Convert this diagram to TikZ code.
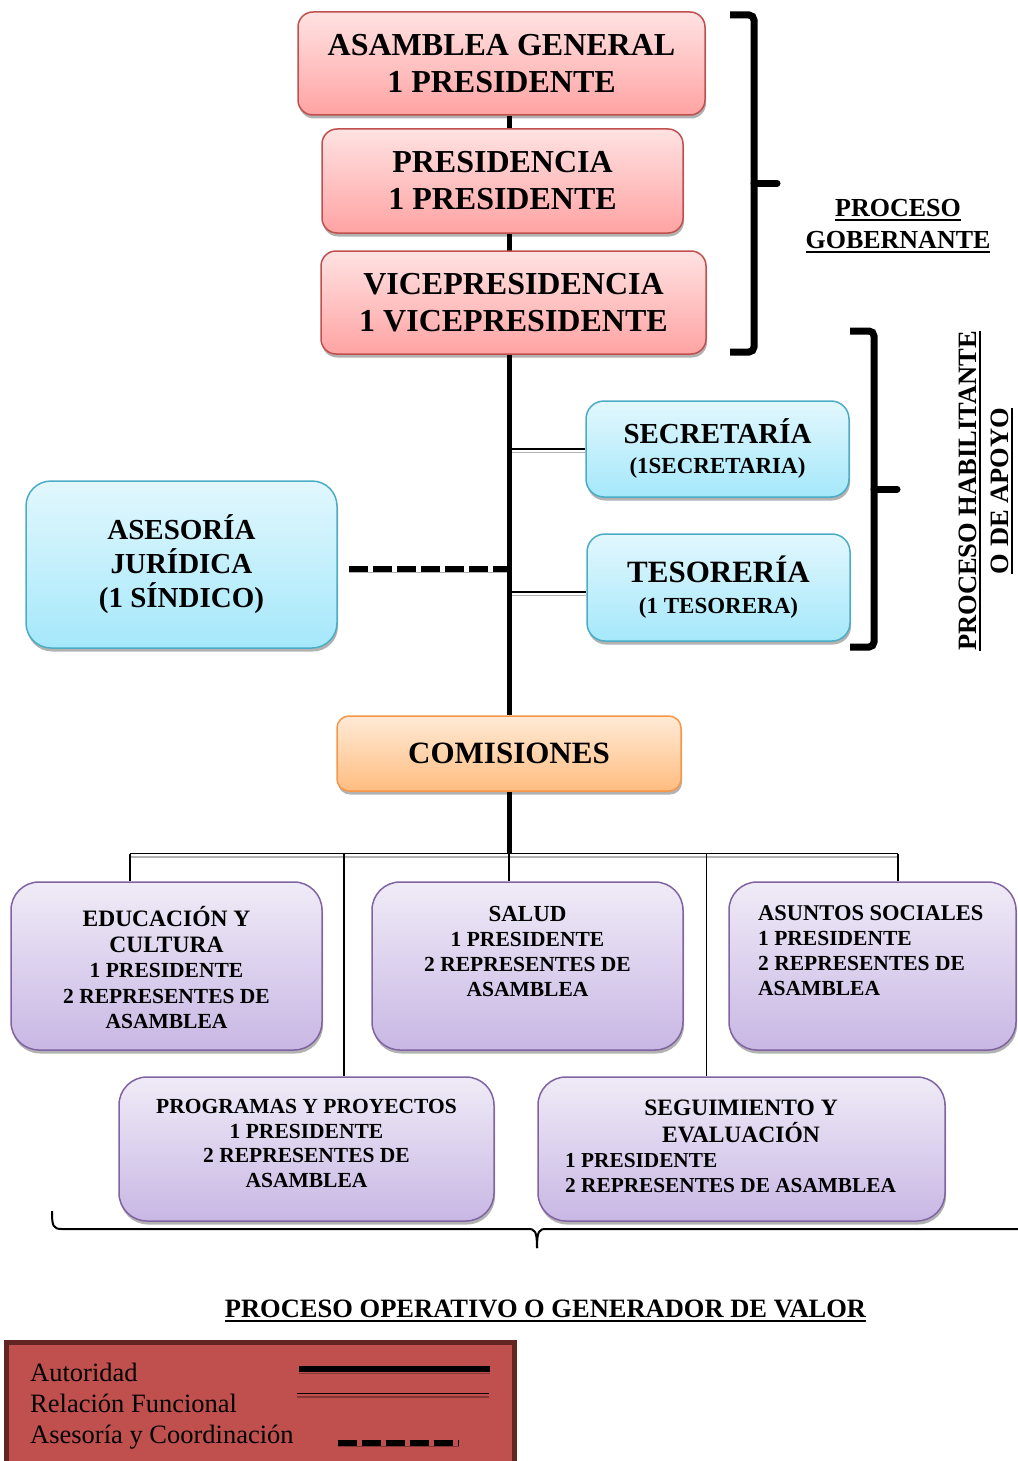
\documentclass[tikz,border=0pt]{standalone}
\usepackage{fontspec}
\setmainfont{Liberation Serif}
\usetikzlibrary{shadows,backgrounds}

\definecolor{redEdge}{RGB}{192,80,77}
\definecolor{redTop}{RGB}{255,226,226}
\definecolor{redBot}{RGB}{255,163,163}
\definecolor{blueEdge}{RGB}{75,172,198}
\definecolor{blueTop}{RGB}{226,247,253}
\definecolor{blueBot}{RGB}{165,232,251}
\definecolor{orgEdge}{RGB}{247,150,70}
\definecolor{orgTop}{RGB}{255,234,214}
\definecolor{orgBot}{RGB}{255,189,128}
\definecolor{purEdge}{RGB}{128,100,162}
\definecolor{purTop}{RGB}{240,235,247}
\definecolor{purBot}{RGB}{200,183,228}
\definecolor{legFill}{RGB}{192,80,77}
\definecolor{legEdge}{RGB}{99,37,35}

% bold text at a given size and line spacing
\newcommand\fsz[2]{\fontsize{#1}{#2}\selectfont\bfseries}
% heavy underline
\newcommand\undl[1]{\setbox0=\hbox{#1}\leavevmode\rlap{\rule[-4.5pt]{\wd0}{2pt}}\box0}

\begin{document}
\begin{tikzpicture}[x=1pt,y=-1pt,
  panel/.style={line width=1.5pt, inner sep=0pt, align=center,
    drop shadow={shadow xshift=1pt, shadow yshift=-3.5pt, fill=black, opacity=0.3}},
  redbox/.style={panel, rounded corners=15pt, draw=redEdge, top color=redTop, bottom color=redBot},
  bluebox/.style={panel, rounded corners=18pt, draw=blueEdge, top color=blueTop, bottom color=blueBot},
  orangebox/.style={panel, rounded corners=12pt, draw=orgEdge, top color=orgTop, bottom color=orgBot},
  purplebox/.style={panel, rounded corners=28pt, draw=purEdge, top color=purTop, bottom color=purBot},
  txt/.style={inner sep=0pt, align=center},
  authority/.style={line width=5pt,
    preaction={draw=black, draw opacity=0.3, transform canvas={yshift=-4pt}}},
  functional/.style={line width=1.2pt,
    preaction={draw=black, draw opacity=0.3, line width=1.6pt, transform canvas={yshift=-3.5pt}}},
  advisory/.style={line width=6pt, dash pattern=on 19pt off 5pt,
    preaction={draw=black, draw opacity=0.3, transform canvas={yshift=-3.5pt}}},
  tap/.style={line width=1.2pt},
  bracket/.style={line width=7pt,
    preaction={draw=black, draw opacity=0.3, transform canvas={xshift=1pt, yshift=-3pt}}},
  thinbrace/.style={line width=2pt},
  legtext/.style={anchor=base west, inner sep=0pt, font=\fontsize{26.5}{31}\selectfont},
]
\useasboundingbox (0,0) rectangle (1017,1461);

% governing bodies
\node[redbox, minimum width=407pt, minimum height=103pt, font=\fsz{32}{37}] (ag) at (501.5,63.5) {ASAMBLEA GENERAL\\1 PRESIDENTE};
\node[redbox, minimum width=361pt, minimum height=104pt, font=\fsz{32}{37}] (pres) at (502.5,181) {PRESIDENCIA\\1 PRESIDENTE};
\node[redbox, minimum width=385pt, minimum height=103pt, font=\fsz{32}{37}] (vice) at (513.5,302.5) {VICEPRESIDENCIA\\1 VICEPRESIDENTE};

% support bodies
\node[bluebox, minimum width=263pt, minimum height=96pt, font=\fsz{23}{30}] (sec) at (717.5,449) {{\fontsize{29}{30}\selectfont SECRETARÍA}\\(1SECRETARIA)};
\node[bluebox, minimum width=263pt, minimum height=107pt, font=\fsz{23}{31}] (tes) at (718.5,587.5) {{\fontsize{31}{31}\selectfont TESORERÍA}\\(1 TESORERA)};
\node[bluebox, rounded corners=25pt, minimum width=311pt, minimum height=167pt, font=\fsz{29}{34}] (aj) at (181.5,564.5) {ASESORÍA\\JURÍDICA\\(1 SÍNDICO)};

% commissions
\node[orangebox, minimum width=344pt, minimum height=75pt, font=\fsz{31}{37}] (com) at (509,753.5) {COMISIONES};

\node[purplebox, minimum width=311pt, minimum height=168pt] (edu) at (166.5,966) {};
\node[purplebox, minimum width=311pt, minimum height=168pt] (sal) at (527.5,966) {};
\node[purplebox, minimum width=287pt, minimum height=168pt] (asu) at (872.5,966) {};
\node[purplebox, minimum width=375pt, minimum height=144pt] (prog) at (306.5,1149) {};
\node[purplebox, minimum width=407pt, minimum height=144pt] (seg) at (741.5,1149) {};

\node[txt, font=\fsz{21.5}{25.5}] (eduT) at (166.5,968) {{\fontsize{23.5}{25.5}\selectfont EDUCACIÓN Y}\\{\fontsize{23.5}{25.5}\selectfont CULTURA}\\1 PRESIDENTE\\2 REPRESENTES DE\\ASAMBLEA};
\node[txt, font=\fsz{21.5}{25}] (salT) at (527.5,951.5) {{\fontsize{23}{25}\selectfont SALUD}\\1 PRESIDENTE\\2 REPRESENTES DE\\ASAMBLEA};
\node[txt, align=left, anchor=west, font=\fsz{21.5}{25}] (asuT) at (758,950.5) {{\fontsize{22.5}{25}\selectfont ASUNTOS SOCIALES}\\1 PRESIDENTE\\2 REPRESENTES DE\\ASAMBLEA};
\node[txt, font=\fsz{21.5}{24.5}] (progT) at (306.5,1143.5) {PROGRAMAS Y PROYECTOS\\1 PRESIDENTE\\2 REPRESENTES DE\\ASAMBLEA};
\node[txt, font=\fsz{23.5}{27}] (segT) at (741,1121.5) {SEGUIMIENTO Y\\EVALUACIÓN};
\node[txt, align=left, anchor=west, font=\fsz{21.3}{25}] (segM) at (565,1173.5) {1 PRESIDENTE\\2 REPRESENTES DE ASAMBLEA};

% process labels
\node[txt, font=\fsz{26}{32}] (gob) at (898,226) {\undl{PROCESO}\\\undl{GOBERNANTE}};
\node[txt, rotate=90, font=\fsz{26.5}{32}] (hab) at (986,491) {\undl{PROCESO HABILITANTE}\\\undl{O DE APOYO}};
\node[txt, font=\fsz{26.5}{32}] (opval) at (545.5,1311) {\undl{PROCESO OPERATIVO O GENERADOR DE VALOR}};

% brackets grouping the processes
\draw[bracket, rounded corners=5pt] (730,15) -- (754,15) -- (754,352) -- (730,352);
\draw[bracket, line cap=round] (754,183) -- (777,183);
\draw[bracket, rounded corners=5pt] (850,331) -- (874,331) -- (874,647) -- (850,647);
\draw[bracket, line cap=round] (874,489) -- (897,489);
\draw[thinbrace] (52,1211) .. controls (52,1226) and (53,1229) .. (62,1229) -- (528,1229)
  .. controls (535,1229) and (537,1231) .. (537,1248);
\draw[thinbrace] (537,1248) .. controls (537,1231) and (539,1229) .. (546,1229) -- (1020,1229);

% legend
\node[draw=legEdge, line width=5pt, fill=legFill, minimum width=508pt, minimum height=140pt,
  anchor=north west, inner sep=0pt, outer sep=0pt] (legend) at (6.5,1342.5) {};
\node[legtext] (lgA) at (30,1381) {Autoridad};
\node[legtext] (lgF) at (30,1412) {Relación Funcional};
\node[legtext] (lgC) at (30,1443) {Asesoría y Coordinación};
\draw[authority, line width=6pt] (299,1369) -- (490,1369);
\draw[functional] (297,1393.5) -- (489,1393.5);
\draw[advisory] (338,1443) -- (459,1443);

% connectors
\coordinate (busL) at (130,853.5);
\coordinate (busP) at (344,853.5);
\coordinate (busC) at (509,853.5);
\coordinate (busS) at (706.5,853.5);
\coordinate (busR) at (898,853.5);
\path ([yshift=-4.5pt]tes.west) coordinate (tesIn);
\path ([yshift=-4.5pt]aj.east) coordinate (ajOut);
\begin{pgfonlayer}{background}
  \draw[authority] (ag.south -| com.north) -- (com.north);
  \draw[authority] (com.south) -- (busC);
  \draw[functional] (sec.west -| com.north) -- (sec.west);
  \draw[functional] (tesIn -| com.north) -- (tesIn);
  \draw[advisory, shorten <=11pt] (ajOut) -- (ajOut -| com.north);
  \draw[functional] (busL) -- (busR);
  \draw[tap] (busL) -- (busL |- edu.north);
  \draw[tap] (busC) -- (busC |- sal.north);
  \draw[tap] (busR) -- (busR |- asu.north);
  \draw[tap] (busP) -- (busP |- prog.north);
  \draw[tap] (busS) -- (busS |- seg.north);
\end{pgfonlayer}
\end{tikzpicture}
\end{document}
